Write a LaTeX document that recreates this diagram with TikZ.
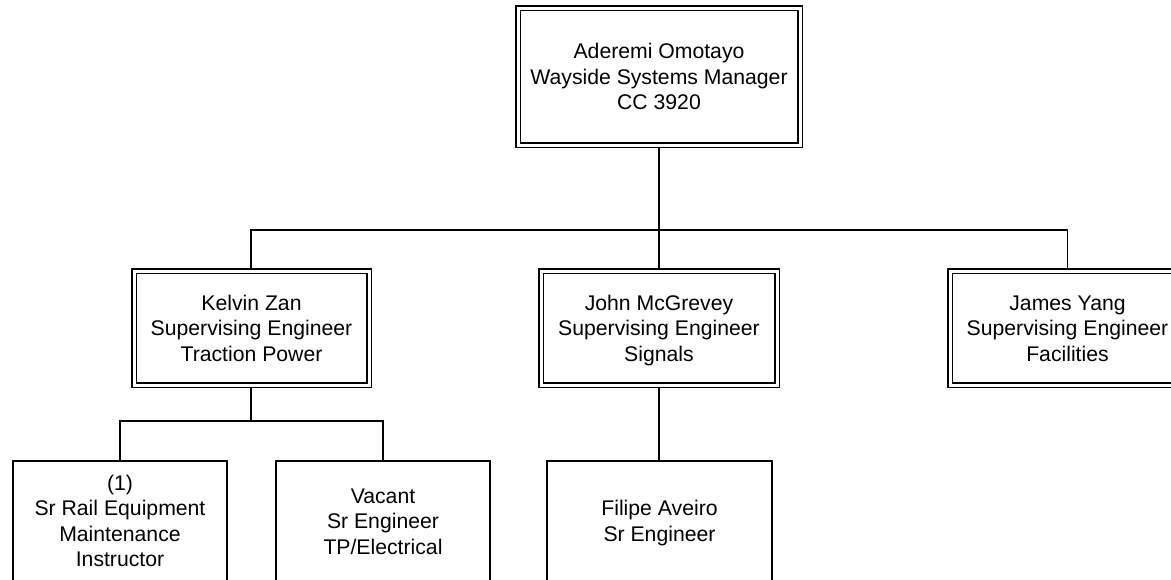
\documentclass[tikz,border=0pt]{standalone}
\usepackage{fontspec}
\setmainfont{Liberation Sans}
\newcommand\tstrut{\rule{0pt}{\dimexpr0.7\baselineskip+5pt\relax}}
\begin{document}
\begin{tikzpicture}[x=1pt,y=-1pt,
  dbox/.style={draw=black, double=white, double distance=3pt, line width=1.5pt, outer sep=3pt,
    inner sep=0pt, align=center, font=\fontsize{21.2}{25.5}\selectfont},
  sbox/.style={draw=black, line width=1.6pt, inner sep=0pt, align=center,
    font=\fontsize{21.2}{25.5}\selectfont},
  conn/.style={draw=black, line width=1.8pt}]
\useasboundingbox (0,0) rectangle (1171,579);
\clip (0,0) rectangle (1171,579);
\fill[white] (0,0) rectangle (1171,579);
\node[dbox, minimum width=282pt, minimum height=137pt] (top) at (659,76.5)
  {\tstrut Aderemi Omotayo\\Wayside Systems Manager\\CC 3920\strut};
\node[dbox, minimum width=235pt, minimum height=114pt] (kelvin) at (251.5,328)
  {\tstrut Kelvin Zan\\Supervising Engineer\\Traction Power\strut};
\node[dbox, minimum width=236pt, minimum height=114pt] (john) at (659,328)
  {\tstrut John McGrevey\\Supervising Engineer\\Signals\strut};
\node[dbox, minimum width=235pt, minimum height=114pt] (james) at (1067.5,328)
  {\tstrut James Yang\\Supervising Engineer\\Facilities\strut};
\node[sbox, minimum width=214.5pt, minimum height=120pt] (sr1) at (120,521)
  {\tstrut(1)\\Sr Rail Equipment\\Maintenance\\Instructor\strut};
\node[sbox, minimum width=214.5pt, minimum height=120pt] (sr2) at (383,521)
  {\tstrut Vacant\\Sr Engineer\\TP/Electrical\strut};
\node[sbox, minimum width=225.5pt, minimum height=120pt] (filipe) at (659.5,521)
  {\tstrut Filipe Aveiro\\Sr Engineer\strut};
\coordinate (bus) at (659,230);
\coordinate (kbus) at (251,421);
\draw[conn] (top.south -| bus) -- (bus);
\draw[conn] (kelvin.north -| kbus) |- (bus) -| (james.north);
\draw[conn] (bus) -- (john.north -| bus);
\draw[conn] (kelvin.south -| kbus) -- (kbus);
\draw[conn] (sr1.north) |- (kbus) -| (sr2.north);
\draw[conn] (john.south -| bus) -- (filipe.north -| bus);
\end{tikzpicture}
\end{document}
